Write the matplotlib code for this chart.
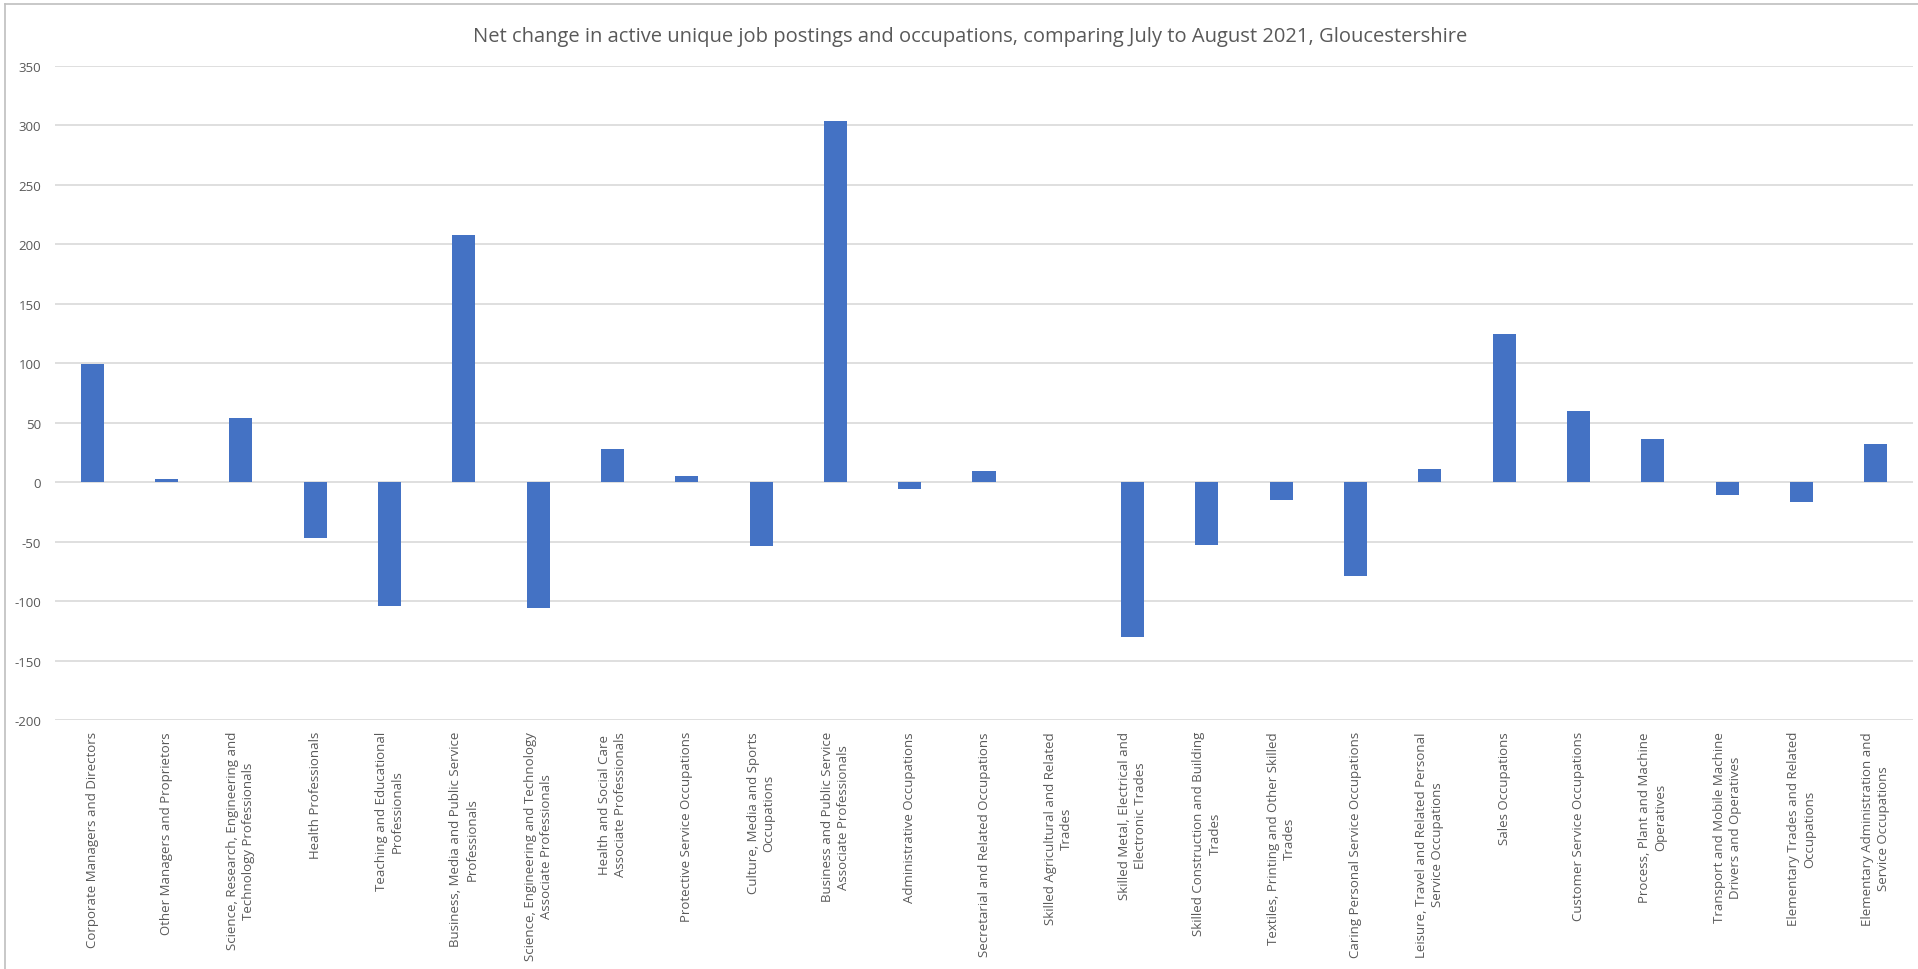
import numpy as np
import matplotlib.pyplot as plt
from matplotlib.lines import Line2D

plt.rcParams["font.family"] = ["Open Sans", "DejaVu Sans"]

TITLE = ("Net change in active unique job postings and occupations, "
         "comparing July to August 2021, Gloucestershire")

# SOC 2010 sub-major groups, wrapped as in the original chart
occupations = [
    "Corporate Managers and Directors",
    "Other Managers and Proprietors",
    "Science, Research, Engineering and\nTechnology Professionals",
    "Health Professionals",
    "Teaching and Educational\nProfessionals",
    "Business, Media and Public Service\nProfessionals",
    "Science, Engineering and Technology\nAssociate Professionals",
    "Health and Social Care\nAssociate Professionals",
    "Protective Service Occupations",
    "Culture, Media and Sports\nOccupations",
    "Business and Public Service\nAssociate Professionals",
    "Administrative Occupations",
    "Secretarial and Related Occupations",
    "Skilled Agricultural and Related\nTrades",
    "Skilled Metal, Electrical and\nElectronic Trades",
    "Skilled Construction and Building\nTrades",
    "Textiles, Printing and Other Skilled\nTrades",
    "Caring Personal Service Occupations",
    "Leisure, Travel and Related Personal\nService Occupations",
    "Sales Occupations",
    "Customer Service Occupations",
    "Process, Plant and Machine\nOperatives",
    "Transport and Mobile Machine\nDrivers and Operatives",
    "Elementary Trades and Related\nOccupations",
    "Elementary Administration and\nService Occupations",
]

net_change = [99, 3, 54, -47, -104, 208, -106, 28, 5, -54, 304, -6, 9, 0,
              -130, -53, -15, -79, 11, 125, 60, 36, -11, -17, 32]

y_ticks = list(range(-200, 351, 50))

BAR_COLOR = "#4472C4"
TEXT_COLOR = "#595959"
GRID_COLOR = "#D9D9D9"

fig = plt.figure(figsize=(19.18, 9.70), dpi=100)
ax = fig.add_axes([55 / 1918, 1 - 721 / 970, (1913 - 55) / 1918, (721 - 67) / 970])

x = np.arange(len(occupations))
ax.bar(x, net_change, width=0.31, color=BAR_COLOR, zorder=3)

ax.set_xlim(-0.5, len(occupations) - 0.5)
ax.set_ylim(-200, 350)
ax.set_yticks(y_ticks)
ax.set_yticklabels([str(t) for t in y_ticks])
ax.yaxis.grid(True, color=GRID_COLOR, linewidth=1.2, zorder=0)
ax.tick_params(axis="y", length=0, pad=10, labelsize=9.5, labelcolor=TEXT_COLOR)

ax.set_xticks(x)
ax.set_xticklabels(occupations, rotation=90, ha="center", va="top",
                   multialignment="center", fontsize=9.5, color=TEXT_COLOR,
                   linespacing=1.3)
ax.tick_params(axis="x", length=0, pad=8)

for s in ax.spines.values():
    s.set_visible(False)

fig.text(970 / 1918, 1 - 37 / 970, TITLE, ha="center", va="center",
         fontsize=14.5, color=TEXT_COLOR)

# chart-area border (top and left edges are visible in the screenshot)
fig.add_artist(Line2D([5 / 1918, 1.0], [1 - 5 / 970, 1 - 5 / 970],
                      color="#BFBFBF", linewidth=1.2, transform=fig.transFigure))
fig.add_artist(Line2D([5 / 1918, 5 / 1918], [0.0, 1 - 5 / 970],
                      color="#BFBFBF", linewidth=1.2, transform=fig.transFigure))

fig.savefig("out.png", dpi=100, facecolor="white")
